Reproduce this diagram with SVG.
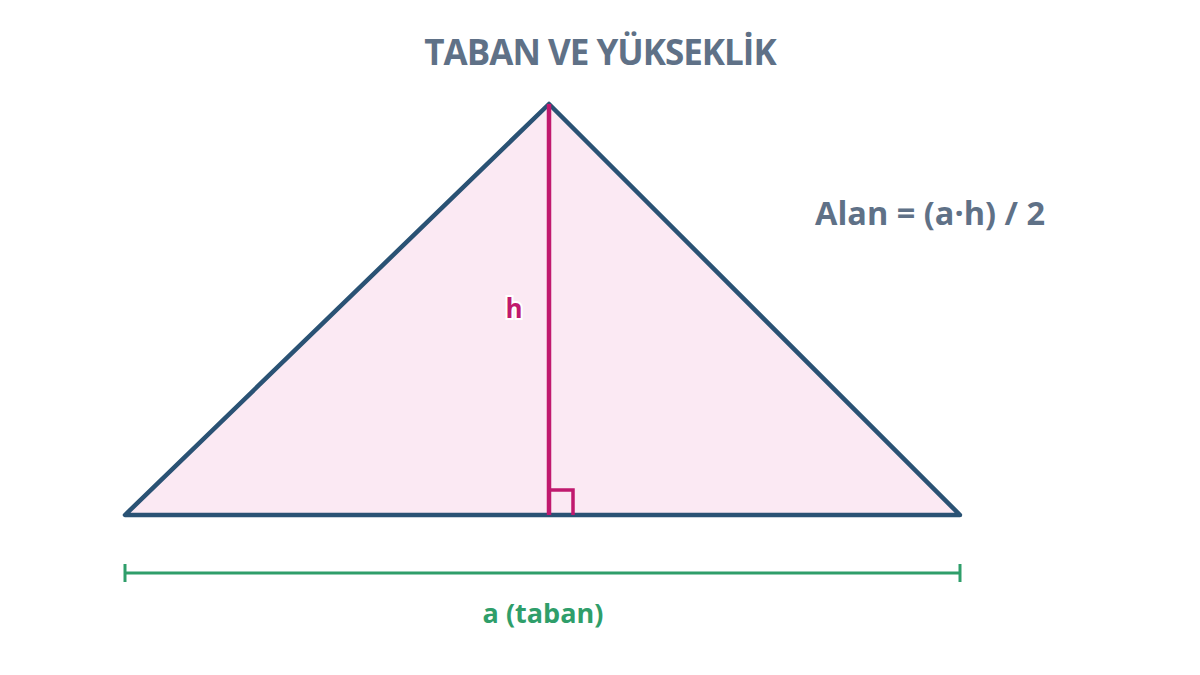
<svg xmlns="http://www.w3.org/2000/svg" width="1200" height="675" viewBox="0 0 1200 675">
<style>
.t{font-family:"Open Sans",Lato,"Liberation Sans",sans-serif;font-weight:bold}
.title{fill:#5f7187;font-size:35px;letter-spacing:-1px}
.formula{fill:#5f7187;font-size:32.5px}
.hl{fill:#c0196e;font-size:26px;stroke:#fff;stroke-width:4;paint-order:stroke}
.al{fill:#2f9e6a;font-size:27px}
</style>
<rect width="1200" height="675" fill="#fff"/>
<text class="t title" x="600" y="65" text-anchor="middle">TABAN VE YÜKSEKLİK</text>
<g id="triangle">
<polygon points="125,515 960,515 549,104" fill="#fbe9f3" stroke="#2a5274" stroke-width="4.5" stroke-linejoin="round"/>
</g>
<g id="connectors">
<line id="altitude" x1="549" y1="104" x2="549" y2="515" stroke="#c0196e" stroke-width="4.5"/>
<polyline id="right-angle" points="549,490 573,490 573,515" fill="none" stroke="#c0196e" stroke-width="3.5"/>
<g id="base-dimension" stroke="#2f9e6a" stroke-width="3">
<line x1="125" y1="573" x2="960" y2="573"/>
<line x1="125" y1="564" x2="125" y2="582"/>
<line x1="960" y1="564" x2="960" y2="582"/>
</g>
</g>
<g id="labels">
<text class="t hl" x="514" y="318" text-anchor="middle">h</text>
<text class="t al" x="543" y="623" text-anchor="middle">a (taban)</text>
<text class="t formula" x="815" y="225">Alan = (a·h) / 2</text>
</g>
</svg>
